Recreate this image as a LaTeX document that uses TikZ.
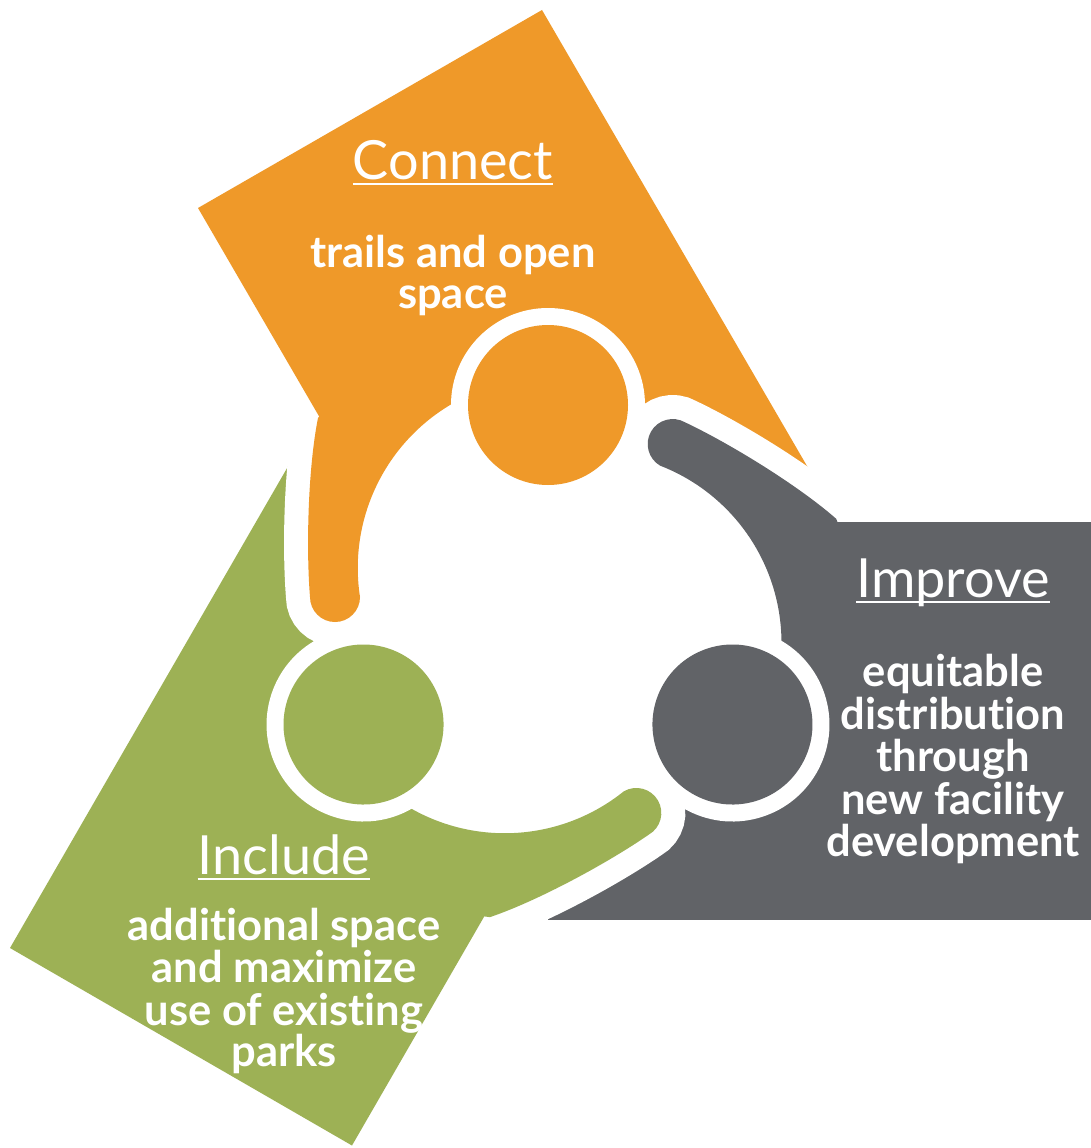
\documentclass[tikz,border=0pt]{standalone}
\usepackage{fontspec}
\setmainfont{Lato}[Ligatures={NoCommon}]
\usetikzlibrary{calc}
\definecolor{corange}{RGB}{239,153,41}
\definecolor{cgray}{RGB}{97,99,103}
\definecolor{cgreen}{RGB}{157,177,85}
\tikzset{
  hd/.style={text=white,inner sep=0pt,anchor=base,font=\fontsize{54}{60}\selectfont},
  bd/.style={text=white,inner sep=0pt,anchor=base,font=\bfseries\fontsize{43.5}{48}\selectfont},
  ul/.style={white,line width=2.8pt}
}
\begin{document}
\begin{tikzpicture}[x=1pt,y=1pt]
\useasboundingbox (0,0) rectangle (1091,-1148);
\fill[white] (0,0) rectangle (1091,-1148);
% background rectangles
\fill[corange] (542,-10) -- (198,-208) -- (466.6,-670.2) -- (810.6,-472.2) -- cycle;
\fill[cgray] (548,-522) rectangle (1095,-920);
\fill[cgreen] (10,-948) -- (290,-463) -- (632,-660.5) -- (352,-1145.5) -- cycle;
% white gaps around arm tips and white centre
\foreach \r in {0,-120,-240}{
 \begin{scope}[shift={(548,-618)},rotate=\r]
  \draw[white,line width=48pt] (-230,200) .. controls (-240,150) and (-242,70) .. (-238,21)
     arc[start angle=180,end angle=360,radius=25]
     arc[start angle=188.8,end angle=175,radius=190];
  \fill[white] (0,50) circle[radius=191];
 \end{scope}
}
% arms and heads
\foreach \r/\c in {0/corange,-120/cgray,-240/cgreen}{
 \begin{scope}[shift={(548,-618)},rotate=\r]
  \fill[\c] (-230,200) .. controls (-240,150) and (-242,70) .. (-238,21)
     arc[start angle=180,end angle=360,radius=25]
     arc[start angle=188.8,end angle=119.5,radius=190]
     -- (-60,250) -- (-150,300) -- cycle;
  \fill[white] (0,213) circle[radius=97];
  \fill[\c] (0,213) circle[radius=80];
 \end{scope}
}
% texts
\node[hd] (hc) at (453,-179) {Connect};
\draw[ul] ($(hc.base west)+(0,-5)$) -- ($(hc.base east)+(0,-5)$);
\node[bd] (c1) at (453,-267) {trails and open};
\node[bd] (c2) at (453,-308) {space};

\node[hd] (hi) at (953,-597) {Improve};
\draw[ul] ($(hi.base west)+(0,-5)$) -- ($(hi.base east)+(0,-5)$);
\node[bd] (i1) at (953,-686) {equitable};
\node[bd] (i2) at (953,-729) {distribution};
\node[bd] (i3) at (953,-771) {through};
\node[bd] (i4) at (953,-814) {new facility};
\node[bd] (i5) at (953,-856) {development};

\node[hd] (hn) at (284,-874) {Include};
\draw[ul] ($(hn.base west)+(0,-5)$) -- ($(hn.base east)+(0,-5)$);
\node[bd] (n1) at (284,-940) {additional space};
\node[bd] (n2) at (284,-982) {and maximize};
\node[bd] (n3) at (284,-1025) {use of existing};
\node[bd] (n4) at (284,-1066) {parks};
\end{tikzpicture}
\end{document}
